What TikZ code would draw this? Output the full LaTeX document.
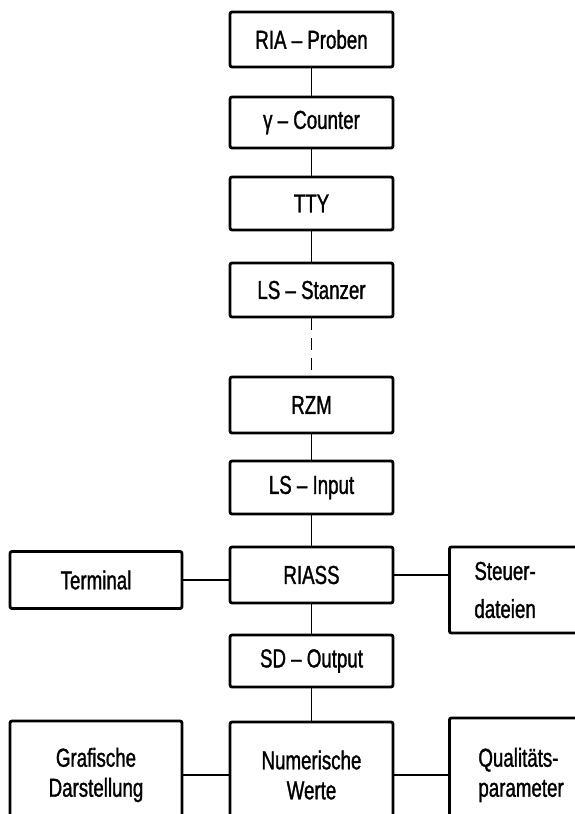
\documentclass[tikz,border=0pt]{standalone}
\usepackage{fontspec}
\setmainfont{Liberation Sans}[FakeStretch=0.72,FakeBold=1.2]
\begin{document}
\begin{tikzpicture}[x=1pt,y=-1pt,
  box/.style={draw, line width=2.8pt, rounded corners=2pt, minimum width=163pt,
    font=\fontsize{26}{30}\selectfont, align=center},
  sidebox/.style={box, minimum width=172pt},
  openbox/.style={box, anchor=west, text width=150pt, align=left},
  link/.style={line width=1.9pt}]
  % Rahmen
  \useasboundingbox (0,0) rectangle (575,814);
  \clip (0,0) rectangle (575,814);

  % Hauptkette
  \node[box, minimum height=55pt] (proben) at (311.5,39.5) {RIA -- Proben};
  \node[box, minimum height=51pt] (counter) at (311.5,122.5) {γ -- Counter};
  \node[box, minimum height=53pt] (tty) at (311.5,203.5) {TTY};
  \node[box, minimum height=54pt] (stanzer) at (311.5,290) {LS -- Stanzer};
  \node[box, minimum height=56pt] (rzm) at (311.5,405) {RZM};
  \node[box, minimum height=53pt] (input) at (311.5,487.5) {LS -- Input};
  \node[box, minimum height=56pt] (riass) at (311.5,575) {RIASS};
  \node[box, minimum height=52pt] (output) at (311.5,661) {SD -- Output};
  \node[box, minimum height=106pt] (werte) at (311.5,775) {Numerische\\Werte};

  % Seitenblöcke
  \node[sidebox, minimum height=57pt] (terminal) at (96,580) {Terminal};
  \node[openbox, inner xsep=25pt, minimum height=86pt] (steuer) at (448,590)
    {Steuer-\\[8pt]dateien};
  \node[sidebox, minimum height=108pt] (grafik) at (96,775) {Grafische\\Darstellung};
  \node[openbox, inner xsep=29pt, minimum height=114pt] (quali) at (448,775)
    {Qualitäts-\\parameter};

  % Verbindungen
  \draw[link] (proben) -- (counter);
  \draw[link] (counter) -- (tty);
  \draw[link] (tty) -- (stanzer);
  \draw[link, dash pattern=on 12pt off 8pt] (stanzer) -- (rzm);
  \draw[link] (rzm) -- (input);
  \draw[link] (input) -- (riass);
  \draw[link] (riass) -- (output);
  \draw[link] (output) -- (werte);
  \draw[link] (terminal.east) -- (terminal.east -| riass.west);
  \draw[link] (riass.east) -- (riass.east -| steuer.west);
  \draw[link] (grafik.east) -- (grafik.east -| werte.west);
  \draw[link] (werte.east) -- (werte.east -| quali.west);
\end{tikzpicture}
\end{document}
